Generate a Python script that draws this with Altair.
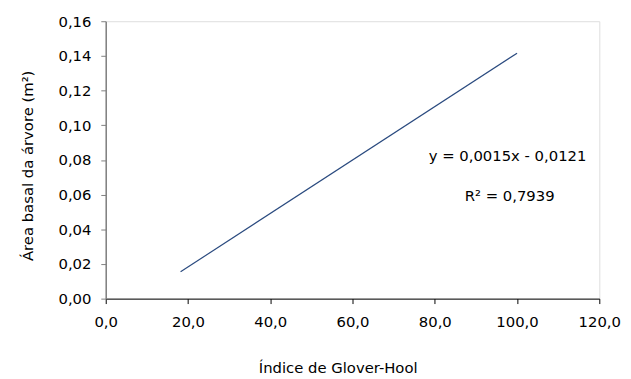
import altair as alt
import pandas as pd

# Data
line_x = [18.2, 100.0]
line_y = [0.0155, 0.1416]

ann_text = ["y = 0,0015x - 0,0121", "R² = 0,7939"]
ann_x = [97.7, 98.2]
ann_y = [0.0820, 0.0592]

x_ticks = [0, 20, 40, 60, 80, 100, 120]
y_ticks = [0.0, 0.02, 0.04, 0.06, 0.08, 0.10, 0.12, 0.14, 0.16]

FONT = "DejaVu Sans"

line_df = pd.DataFrame({"x": line_x, "y": line_y})
ann_df = pd.DataFrame({"x": ann_x, "y": ann_y, "t": ann_text})

x_scale = alt.Scale(domain=[0, 120], nice=False, zero=False)
y_scale = alt.Scale(domain=[0, 0.16], nice=False, zero=False)

x_axis = alt.Axis(
    values=x_ticks, tickCount=20, format=".1f", title="Índice de Glover-Hool",
    grid=False, domainColor="#000000", tickColor="#000000",
    tickSize=5, labelPadding=23, labelBaseline="alphabetic",
    labelFontSize=15, labelColor="#000000", labelOverlap=False,
    labelFont=FONT, titleFont=FONT, titleFontSize=15, titleFontWeight="normal",
    titleColor="#000000", titleX=235, titleY=75, titleBaseline="alphabetic",
    titleAlign="center", labelFlush=False,
)
y_axis = alt.Axis(
    values=y_ticks, tickCount=20, format=".2f", title="Área basal da árvore (m²)",
    grid=False, domainColor="#7f7f7f", domainWidth=1.5, tickColor="#7f7f7f",
    tickSize=5, labelPadding=10, labelFontSize=15, labelColor="#000000",
    labelOverlap=False,
    labelFont=FONT, titleFont=FONT, titleFontSize=15, titleFontWeight="normal",
    titleColor="#000000", titleX=-74, titleY=146, titleBaseline="alphabetic",
    titleAlign="center", labelFlush=False,
)

line = alt.Chart(line_df).mark_line(color="#2a4a7f", strokeWidth=1.2).encode(
    x=alt.X("x:Q", scale=x_scale, axis=x_axis),
    y=alt.Y("y:Q", scale=y_scale, axis=y_axis),
)

text = alt.Chart(ann_df).mark_text(
    font=FONT, fontSize=15, color="#000000", align="center", baseline="middle"
).encode(
    x=alt.X("x:Q", scale=x_scale),
    y=alt.Y("y:Q", scale=y_scale),
    text="t:N",
)

chart = (line + text).properties(
    width=500, height=281,
    padding={"left": 99, "top": 11, "right": 24, "bottom": 79},
    autosize=alt.AutoSizeParams(type="none"),
).configure_view(stroke=None).configure(
    locale={"number": {"decimal": ",", "thousands": ".", "grouping": [3], "currency": ["", ""]}}
)

chart.save("out.html", embed_options={"renderer": "svg", "actions": False})
